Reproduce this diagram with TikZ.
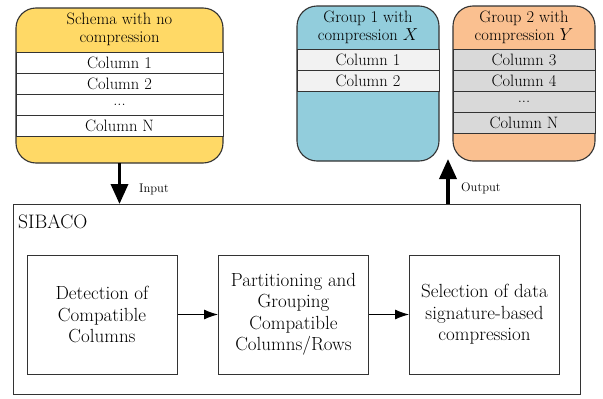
\documentclass[tikz,border=0pt]{standalone}
\usepackage{fontspec}
\usetikzlibrary{arrows.meta}
\definecolor{yel}{HTML}{FFD966}
\definecolor{blu}{HTML}{92CDDC}
\definecolor{ora}{HTML}{FAC090}
\definecolor{rowa}{HTML}{F2F2F2}
\definecolor{rowb}{HTML}{D9D9D9}
\definecolor{edge}{HTML}{333333}
\begin{document}
\begin{tikzpicture}[x=1pt,y=-1pt,
  cont/.style={draw=edge, line width=1.1pt, rounded corners=20pt, inner sep=0pt, outer sep=0pt},
  hdr/.style={align=center, inner sep=0pt, font=\fontsize{16.5}{18}\selectfont},
  rowbox/.style={draw=edge, line width=0.8pt, inner sep=0pt, outer sep=0pt, font=\fontsize{16.5}{18}\selectfont},
  stepbox/.style={draw=edge, line width=1pt, minimum width=150pt, minimum height=119pt, align=center, inner sep=0pt, font=\fontsize{19}{21.5}\selectfont},
  flow/.style={line width=0.9pt, -{Latex[length=14pt,width=10pt]}},
  bigflow/.style={line width=3.5pt, -{Triangle[length=20pt,width=17pt]}},
  lbl/.style={anchor=west, inner sep=0pt, font=\fontsize{12.5}{14}\selectfont}
]
\useasboundingbox (0,0) rectangle (603,399);

% Schema with no compression
\node[cont, fill=yel, minimum width=207pt, minimum height=155pt] (schema) at (119.5,85.5) {};
\node[hdr] (schemah) at (119.5,29) {Schema with no\\compression};
\node[rowbox, fill=white, minimum width=207pt, minimum height=21pt] (s1) at (119.5,62.5) {Column 1};
\node[rowbox, fill=white, minimum width=207pt, minimum height=21pt] (s2) at (119.5,83.5) {Column 2};
\node[rowbox, fill=white, minimum width=207pt, minimum height=21pt] (s3) at (119.5,104.5) {...};
\node[rowbox, fill=white, minimum width=207pt, minimum height=21pt] (s4) at (119.5,125.5) {Column N};

% Group 1
\node[cont, fill=blu, minimum width=142pt, minimum height=155pt] (g1) at (368,83.5) {};
\node[hdr] (g1h) at (368,27) {Group 1 with\\compression $X$};
\node[rowbox, fill=rowa, minimum width=142pt, minimum height=21pt] (g11) at (368,59.5) {Column 1};
\node[rowbox, fill=rowa, minimum width=142pt, minimum height=21pt] (g12) at (368,80.5) {Column 2};

% Group 2
\node[cont, fill=ora, minimum width=142pt, minimum height=155pt] (g2) at (524,83.5) {};
\node[hdr] (g2h) at (524,27) {Group 2 with\\compression $Y$};
\node[rowbox, fill=rowb, minimum width=142pt, minimum height=21pt] (g21) at (524,59.5) {Column 3};
\node[rowbox, fill=rowb, minimum width=142pt, minimum height=21pt] (g22) at (524,80.5) {Column 4};
\node[rowbox, fill=rowb, minimum width=142pt, minimum height=21pt] (g23) at (524,101.5) {...};
\node[rowbox, fill=rowb, minimum width=142pt, minimum height=21pt] (g24) at (524,122.5) {Column N};

% SIBACO
\node[draw=edge, line width=1pt, minimum width=567pt, minimum height=190pt, inner sep=0pt, outer sep=0pt] (sibaco) at (296.5,299) {};
\node[anchor=west, inner sep=0pt, font=\fontsize{19.5}{21}\selectfont] (sibacol) at (18,222) {SIBACO};

\node[stepbox] (det) at (102,314.5) {Detection of\\Compatible\\Columns};
\node[stepbox] (part) at (293.5,314.5) {Partitioning and\\Grouping\\Compatible\\Columns/Rows};
\node[stepbox] (sel) at (484.5,314.5) {Selection of data\\signature-based\\compression};

\draw[flow] (det) -- (part);
\draw[flow] (part) -- (sel);

% Input / Output
\draw[bigflow] (schema.south) -- (schema.south |- sibaco.north);
\node[lbl] (inl) at (139,189) {Input};
\coordinate (outtip) at (448,159);
\draw[bigflow] (outtip |- sibaco.north) -- (outtip);
\node[lbl] (outl) at (461,188) {Output};
\end{tikzpicture}
\end{document}
